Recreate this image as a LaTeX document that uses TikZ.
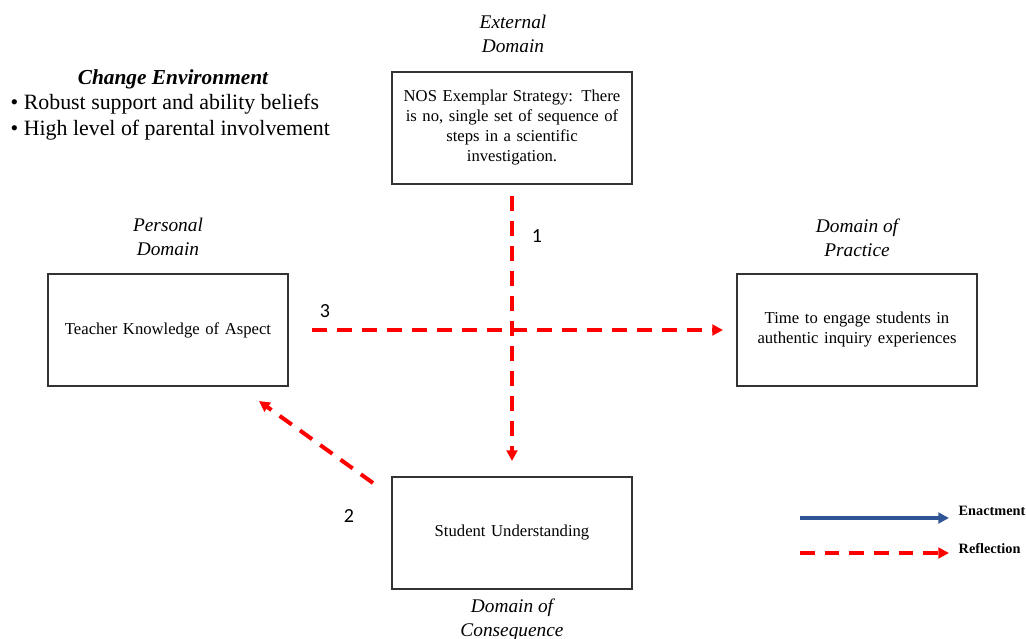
\documentclass[tikz,border=0pt]{standalone}
\usepackage{fontspec}
\setmainfont{Liberation Serif}
\newfontfamily\numfont{Carlito}
\usetikzlibrary{arrows.meta}
\definecolor{reflred}{RGB}{255,0,0}
\definecolor{enactblue}{RGB}{47,85,151}
\begin{document}
\begin{tikzpicture}[x=0.75pt,y=-0.75pt,
  domainbox/.style={draw=black!80,line width=0.9pt,minimum width=240*0.75pt,minimum height=112*0.75pt,
    inner sep=0pt,align=center,font=\fontsize{12.5}{15}\selectfont,text width=228*0.75pt,
    execute at begin node={\hyphenpenalty=10000\relax}},
  domainlabel/.style={align=center,font=\fontsize{14.5}{18}\selectfont\itshape},
  reflection/.style={draw=reflred,line width=3pt,dash pattern=on 11.25pt off 7.5pt,
    -{Triangle[length=8pt,width=8pt]}},
  enactment/.style={draw=enactblue,line width=2.6pt,-{Triangle[length=8pt,width=8pt]}},
  steplabel/.style={font=\numfont\fontsize{15}{17}\selectfont},
  legendlabel/.style={anchor=west,font=\fontsize{10.7}{13}\selectfont\bfseries}]
\useasboundingbox (0,0) rectangle (1026,639);

% change environment notes
\node[anchor=center,font=\fontsize{16}{19}\selectfont\bfseries\itshape] (envtitle) at (173,79) {Change Environment};
\node[anchor=west,font=\fontsize{16.4}{19.5}\selectfont,align=left] (envlist) at (6,117)
  {\textbullet\ Robust support and ability beliefs\\\textbullet\ High level of parental involvement};

% domains
\node[domainbox] (ext) at (512,128) {NOS Exemplar Strategy: There\\ is no, single set of sequence of\\ steps in a scientific\\ investigation.};
\node[domainlabel] (extlab) at (513,34) {External\\Domain};

\node[domainbox] (pers) at (168,330) {Teacher Knowledge of Aspect};
\node[domainlabel] (perslab) at (168,237) {Personal\\Domain};

\node[domainbox] (prac) at (857,330) {Time to engage students in\\ authentic inquiry experiences};
\node[domainlabel] (praclab) at (857,238) {Domain of\\Practice};

\node[domainbox] (cons) at (512,533) {Student Understanding};
\node[domainlabel] (conslab) at (512,620) {Domain of\\Consequence};

% reflection connectors
\coordinate (v0) at (512,196);
\coordinate (v1) at (512,461);
\coordinate (h0) at (312,330);
\coordinate (h1) at (723,330);
\coordinate (d0) at (373,483);
\coordinate (d1) at (259,401);
\draw[reflection] (v0) -- (v1);
\draw[reflection] (h0) -- (h1);
\draw[reflection] (d0) -- (d1);

\node[steplabel] (n1) at (537,236) {1};
\node[steplabel] (n3) at (325,311) {3};
\node[steplabel] (n2) at (349,516) {2};

% legend
\coordinate (e0) at (800,518);
\coordinate (e1) at (949,518);
\coordinate (r0) at (800,553);
\coordinate (r1) at (949,553);
\draw[enactment] (e0) -- (e1);
\draw[reflection,line width=2.6pt,dash pattern=on 11pt off 7.5pt] (r0) -- (r1);
\node[legendlabel] (enlab) at (954,511) {Enactment};
\node[legendlabel] (relab) at (954,549) {Reflection};
\end{tikzpicture}
\end{document}
